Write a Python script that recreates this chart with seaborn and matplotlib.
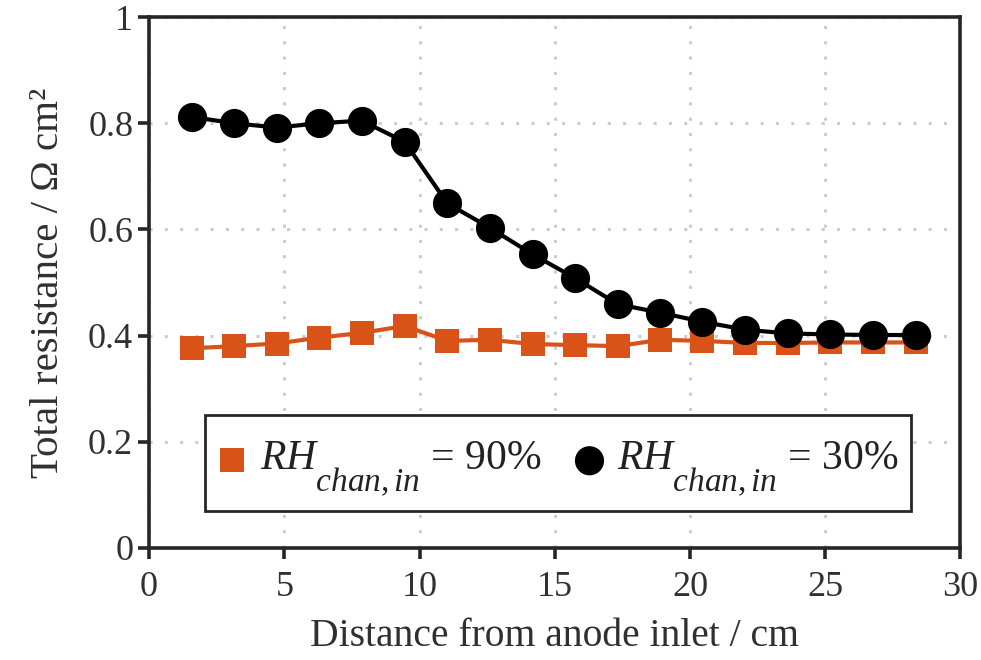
import matplotlib
matplotlib.use("Agg")
import matplotlib.pyplot as plt
import matplotlib._mathtext as mathtext_impl
from matplotlib.lines import Line2D
from matplotlib.markers import MarkerStyle
from matplotlib.transforms import Affine2D
import pandas as pd
import seaborn as sns

# Measurement positions along the channel (cm)
distance = [1.58, 3.15, 4.72, 6.29, 7.86, 9.45, 11.03, 12.60, 14.18, 15.76,
            17.33, 18.91, 20.46, 22.05, 23.62, 25.19, 26.77, 28.34]

# Total resistance (Ohm cm^2) for the two inlet humidities
resistance_rh90 = [0.376, 0.380, 0.385, 0.396, 0.405, 0.418, 0.390, 0.392, 0.384,
                   0.382, 0.380, 0.392, 0.390, 0.386, 0.386, 0.387, 0.387, 0.387]
resistance_rh30 = [0.812, 0.800, 0.792, 0.800, 0.805, 0.765, 0.649, 0.603, 0.553,
                   0.508, 0.459, 0.443, 0.426, 0.411, 0.404, 0.402, 0.401, 0.401]

series_labels = [r"$\mathit{RH}_{\mathit{chan,in}}$ = 90%",
                 r"$\mathit{RH}_{\mathit{chan,in}}$ = 30%"]

x_ticks = [0, 5, 10, 15, 20, 25, 30]
y_ticks = [0, 0.2, 0.4, 0.6, 0.8, 1]
y_tick_labels = ["0", "0.2", "0.4", "0.6", "0.8", "1"]

df90 = pd.DataFrame({"x": distance, "y": resistance_rh90})
df30 = pd.DataFrame({"x": distance, "y": resistance_rh30})

sns.set_theme(style="ticks")
plt.rcParams["font.family"] = ["Liberation Serif", "DejaVu Serif"]
plt.rcParams["mathtext.fontset"] = "custom"
plt.rcParams["mathtext.rm"] = "Liberation Serif"
plt.rcParams["mathtext.it"] = "Liberation Serif:italic"
plt.rcParams["mathtext.bf"] = "Liberation Serif:bold"

# Larger, lower subscripts for the "RH_chan,in" legend labels
mathtext_impl.SHRINK_FACTOR = 0.8
mathtext_impl.FontConstantsBase.sub1 = 1.2

orange = "#D95319"
dark = "#262626"
text_col = "#303030"

fig = plt.figure(figsize=(9.81, 6.60), dpi=100)
ax = fig.add_axes([0.152, 0.170, 0.827, 0.804])

sns.lineplot(data=df90, x="x", y="y", ax=ax, color=orange, linewidth=3,
             marker="s", markersize=17.5, markeredgecolor=orange,
             markeredgewidth=0, zorder=3)
sns.lineplot(data=df30, x="x", y="y", ax=ax, color="black", linewidth=3,
             marker="o", markersize=21, markeredgecolor="black",
             markeredgewidth=0, zorder=4)

ax.set_xlim(0, 30)
ax.set_ylim(0, 1)
ax.set_xticks(x_ticks)
ax.set_yticks(y_ticks)
ax.set_yticklabels(y_tick_labels)

ax.grid(True, color="#cccccc", linestyle=(0, (1, 4)), linewidth=2.2)
ax.set_axisbelow(True)

for side in ["left", "right", "top", "bottom"]:
    ax.spines[side].set_visible(True)
    ax.spines[side].set_color(dark)
    ax.spines[side].set_linewidth(2.6)

ax.tick_params(axis="both", direction="out", length=8, width=2.6,
               color=dark, labelsize=26, labelcolor=text_col)
ax.tick_params(axis="y", pad=3.5)
ax.tick_params(axis="x", pad=9)

ax.set_xlabel("Distance from anode inlet / cm", fontsize=28.5, color=text_col,
              labelpad=10)
ax.set_ylabel("Total resistance / \u03a9 cm\u00b2", fontsize=29.5,
              color=text_col, labelpad=15)

# Legend symbols sit slightly below the middle of the label row
square_key = MarkerStyle("s", transform=Affine2D().translate(0, -0.5))
circle_key = MarkerStyle("o", transform=Affine2D().translate(0, -0.42))
handles = [
    Line2D([], [], linestyle="none", marker=square_key, markersize=17.5,
           color=orange, markeredgewidth=0),
    Line2D([], [], linestyle="none", marker=circle_key, markersize=21,
           color="black", markeredgewidth=0),
]
leg = ax.legend(handles, series_labels, ncol=2, loc="center",
                bbox_to_anchor=(0.5037, 0.160), fontsize=30, frameon=True,
                fancybox=False, framealpha=1, edgecolor=dark,
                handlelength=0.7, handleheight=1.7, handletextpad=0.32,
                columnspacing=0.8, borderpad=0.3, borderaxespad=0)
leg.get_frame().set_linewidth(2)
for t in leg.get_texts():
    t.set_color("#222222")

fig.savefig("out.png", dpi=100)
